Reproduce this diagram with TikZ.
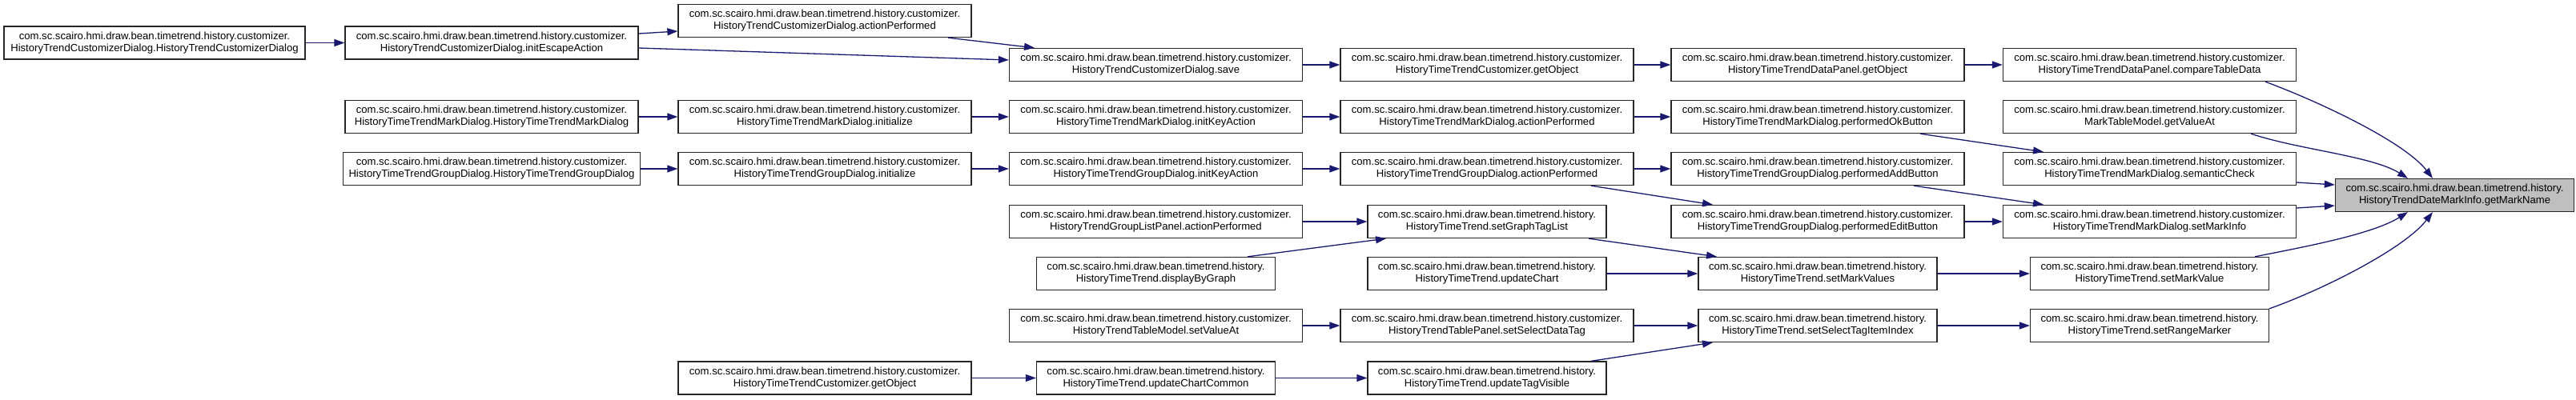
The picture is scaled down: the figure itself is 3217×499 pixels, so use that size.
\documentclass[tikz,border=0pt]{standalone}
\usepackage{fontspec}
\setmainfont{Liberation Sans}
\usetikzlibrary{arrows.meta}
\definecolor{edgeblue}{HTML}{191970}
\definecolor{targetgrey}{HTML}{BFBFBF}
\newcommand\pfxc{com.sc.scairo.hmi.draw.bean.timetrend.history.customizer.}
\newcommand\pfxh{com.sc.scairo.hmi.draw.bean.timetrend.history.}
\begin{document}
\begin{tikzpicture}[x=1pt,y=-1pt,
  fn/.style={draw=black!85, line width=1.3pt, rectangle, minimum height=41pt, inner sep=0pt, align=center, font=\fontsize{13.1}{15}\selectfont, fill=white},
  wide/.style={fn, minimum width=366pt},
  narrow/.style={fn, minimum width=298pt},
  target/.style={narrow, fill=targetgrey},
  call/.style={draw=edgeblue, line width=1.3pt, -{Triangle[length=13pt,width=9pt]}}
]
\useasboundingbox (0,0) rectangle (3217,499);
% nodes
\node[wide, minimum width=376pt] (n1) at (193,53.5) {\pfxc\\HistoryTrendCustomizerDialog.HistoryTrendCustomizerDialog};
\node[wide] (n2) at (614,53.5) {\pfxc\\HistoryTrendCustomizerDialog.initEscapeAction};
\node[wide] (n3) at (1030,26) {\pfxc\\HistoryTrendCustomizerDialog.actionPerformed};
\node[wide] (n4) at (1443.5,81) {\pfxc\\HistoryTrendCustomizerDialog.save};
\node[wide] (n5) at (1857,81) {\pfxc\\HistoryTimeTrendCustomizer.getObject};
\node[wide] (n6) at (2270,81) {\pfxc\\HistoryTimeTrendDataPanel.getObject};
\node[wide] (n7) at (2684.5,81) {\pfxc\\HistoryTimeTrendDataPanel.compareTableData};
\node[target] (n8) at (3065.5,244) {\pfxh\\HistoryTrendDateMarkInfo.getMarkName};
\node[wide] (n9) at (614,146) {\pfxc\\HistoryTimeTrendMarkDialog.HistoryTimeTrendMarkDialog};
\node[wide] (n10) at (1030,146) {\pfxc\\HistoryTimeTrendMarkDialog.initialize};
\node[wide] (n11) at (1443.5,146) {\pfxc\\HistoryTimeTrendMarkDialog.initKeyAction};
\node[wide] (n12) at (1857,146) {\pfxc\\HistoryTimeTrendMarkDialog.actionPerformed};
\node[wide] (n13) at (2270,146) {\pfxc\\HistoryTimeTrendMarkDialog.performedOkButton};
\node[wide] (n14) at (2684.5,146) {\pfxc\\MarkTableModel.getValueAt};
\node[wide, minimum width=371pt] (n15) at (614,211) {\pfxc\\HistoryTimeTrendGroupDialog.HistoryTimeTrendGroupDialog};
\node[wide] (n16) at (1030,211) {\pfxc\\HistoryTimeTrendGroupDialog.initialize};
\node[wide] (n17) at (1443.5,211) {\pfxc\\HistoryTimeTrendGroupDialog.initKeyAction};
\node[wide] (n18) at (1857,211) {\pfxc\\HistoryTimeTrendGroupDialog.actionPerformed};
\node[wide] (n19) at (2270,211) {\pfxc\\HistoryTimeTrendGroupDialog.performedAddButton};
\node[wide] (n20) at (2684.5,211) {\pfxc\\HistoryTimeTrendMarkDialog.semanticCheck};
\node[wide] (n21) at (1443.5,277) {\pfxc\\HistoryTrendGroupListPanel.actionPerformed};
\node[narrow] (n22) at (1857,277) {\pfxh\\HistoryTimeTrend.setGraphTagList};
\node[wide] (n23) at (2270,277) {\pfxc\\HistoryTimeTrendGroupDialog.performedEditButton};
\node[wide] (n24) at (2684.5,277) {\pfxc\\HistoryTimeTrendMarkDialog.setMarkInfo};
\node[narrow] (n25) at (1443.5,342) {\pfxh\\HistoryTimeTrend.displayByGraph};
\node[narrow] (n26) at (1857,342) {\pfxh\\HistoryTimeTrend.updateChart};
\node[narrow] (n27) at (2270,342) {\pfxh\\HistoryTimeTrend.setMarkValues};
\node[narrow] (n28) at (2684.5,342) {\pfxh\\HistoryTimeTrend.setMarkValue};
\node[wide] (n29) at (1443.5,407) {\pfxc\\HistoryTrendTableModel.setValueAt};
\node[wide] (n30) at (1857,407) {\pfxc\\HistoryTrendTablePanel.setSelectDataTag};
\node[narrow] (n31) at (2270,407) {\pfxh\\HistoryTimeTrend.setSelectTagItemIndex};
\node[narrow] (n32) at (2684.5,407) {\pfxh\\HistoryTimeTrend.setRangeMarker};
\node[wide] (n33) at (1030,472.5) {\pfxc\\HistoryTimeTrendCustomizer.getObject};
\node[narrow] (n34) at (1443.5,472.5) {\pfxh\\HistoryTimeTrend.updateChartCommon};
\node[narrow] (n35) at (1857,472.5) {\pfxh\\HistoryTimeTrend.updateTagVisible};
% edges
\draw[call] (n1.east) -- (n2.west);
\draw[call] ([yshift=11.5pt]n2.east) -- ([yshift=-13pt]n3.west);
\draw[call] ([yshift=-6.5pt]n2.east) -- ([yshift=6pt]n4.west);
\draw[call] ([xshift=154pt]n3.south) -- ([xshift=-151.5pt]n4.north);
\draw[call] (n4.east) -- (n5.west);
\draw[call] (n5.east) -- (n6.west);
\draw[call] (n6.east) -- (n7.west);
\draw[call] ([xshift=144.5pt]n7.south) .. controls +(70,26) and +(-35,-45) .. ([xshift=-27.5pt]n8.north);
\draw[call] (n9.east) -- (n10.west);
\draw[call] (n10.east) -- (n11.west);
\draw[call] (n11.east) -- (n12.west);
\draw[call] (n12.east) -- (n13.west);
\draw[call] ([xshift=128pt]n13.south) -- ([xshift=-132.5pt]n20.north);
\draw[call] ([xshift=126.5pt]n14.south) .. controls +(60,20) and +(-45,-28) .. ([xshift=-58.5pt]n8.north);
\draw[call] ([yshift=-17pt]n20.east) -- ([yshift=13pt]n8.west);
\draw[call] (n15.east) -- (n16.west);
\draw[call] (n16.east) -- (n17.west);
\draw[call] (n17.east) -- (n18.west);
\draw[call] (n18.east) -- (n19.west);
\draw[call] ([xshift=130pt]n18.south) -- ([xshift=-131pt]n23.north);
\draw[call] ([xshift=120pt]n19.south) -- ([xshift=-132.5pt]n24.north);
\draw[call] (n23.east) -- (n24.west);
\draw[call] ([yshift=17pt]n24.east) -- ([yshift=-13pt]n8.west);
\draw[call] (n21.east) -- (n22.west);
\draw[call] ([xshift=114.5pt]n25.north) -- ([xshift=-126pt]n22.south);
\draw[call] ([xshift=127pt]n22.south) -- ([xshift=-126pt]n27.north);
\draw[call] (n26.east) -- (n27.west);
\draw[call] (n27.east) -- (n28.west);
\draw[call] ([xshift=131.5pt]n28.north) .. controls +(60,-12) and +(-45,28) .. ([xshift=-58.5pt]n8.south);
\draw[call] (n29.east) -- (n30.west);
\draw[call] (n30.east) -- (n31.west);
\draw[call] (n31.east) -- (n32.west);
\draw[call] ([xshift=149.5pt]n32.north) .. controls +(70,-25) and +(-35,45) .. ([xshift=-27.5pt]n8.south);
\draw[call] (n33.east) -- (n34.west);
\draw[call] (n34.east) -- (n35.west);
\draw[call] ([xshift=130pt]n35.north) -- ([xshift=-131pt]n31.south);
\end{tikzpicture}
\end{document}
